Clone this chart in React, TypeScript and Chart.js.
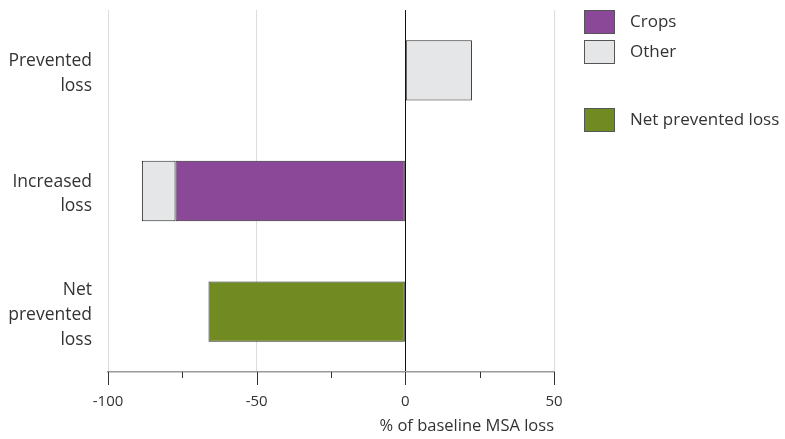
import React, { useEffect, useRef } from "react";
import { Chart, registerables } from "chart.js";

Chart.register(...registerables);

const categories: string[][] = [["Prevented", "loss"], ["Increased", "loss"], ["Net", "prevented", "loss"]];
const cropsValues: (number | null)[] = [null, -77.3, null];
const otherValues: (number | null)[] = [22.4, -11.3, null];
const netValues: (number | null)[] = [null, null, -66.2];
const xTickValues: number[] = [-100, -75, -50, -25, 0, 25, 50];
const xLabelValues: number[] = [-100, -50, 0, 50];
const legendLabels: string[] = ["Crops", "Other", "Net prevented loss"];

const COLORS = { crops: "#8B4798", other: "#E5E6E7", net: "#718B22" };
const FONT = "'Open Sans', sans-serif";
const TEXT = "#333333";

const customPlugin = {
  id: "custom",
  afterDraw(chart: any) {
    const ctx = chart.ctx;
    const xs = chart.scales.x;
    const bottom = chart.chartArea.bottom;
    ctx.save();
    ctx.strokeStyle = "#333";
    ctx.lineWidth = 1;
    xTickValues.forEach((v) => {
      const x = Math.round(xs.getPixelForValue(v)) + 0.5;
      const major = xLabelValues.includes(v);
      ctx.beginPath();
      ctx.moveTo(x, bottom);
      ctx.lineTo(x, bottom + (major ? 13 : 6));
      ctx.stroke();
    });
    // legend
    const items = [
      { label: legendLabels[0], color: COLORS.crops, y: 10 },
      { label: legendLabels[1], color: COLORS.other, y: 40 },
      { label: legendLabels[2], color: COLORS.net, y: 108 },
    ];
    ctx.font = `17px ${FONT}`;
    ctx.textBaseline = "middle";
    ctx.textAlign = "left";
    items.forEach((it) => {
      ctx.fillStyle = it.color;
      ctx.fillRect(584, it.y, 30, 23);
      ctx.strokeStyle = "#555";
      ctx.strokeRect(584.5, it.y + 0.5, 30, 23);
      ctx.fillStyle = TEXT;
      ctx.fillText(it.label, 630, it.y + 12);
    });
    ctx.restore();
  },
};

export default function App() {
  const ref = useRef<HTMLCanvasElement>(null);
  useEffect(() => {
    if (!ref.current) return;
    const chart = new Chart(ref.current, {
      type: "bar",
      data: {
        labels: categories as any,
        datasets: [
          { label: legendLabels[0], data: cropsValues, backgroundColor: COLORS.crops, borderColor: "#2a2a2a", borderWidth: 1, borderSkipped: false, barPercentage: 0.5, categoryPercentage: 1 },
          { label: legendLabels[1], data: otherValues, backgroundColor: COLORS.other, borderColor: "#2a2a2a", borderWidth: 1, borderSkipped: false, barPercentage: 0.5, categoryPercentage: 1 },
          { label: legendLabels[2], data: netValues, backgroundColor: COLORS.net, borderColor: "#2a2a2a", borderWidth: 1, borderSkipped: false, barPercentage: 0.5, categoryPercentage: 1 },
        ],
      },
      options: {
        indexAxis: "y",
        responsive: false,
        animation: false,
        devicePixelRatio: 1,
        layout: { padding: { top: 10, right: 231, left: 0, bottom: 0 } },
        plugins: { legend: { display: false }, tooltip: { enabled: false } },
        scales: {
          x: {
            stacked: true,
            min: -100,
            max: 50,
            afterBuildTicks: (scale: any) => {
              scale.ticks = xTickValues.map((v) => ({ value: v }));
            },
            afterFit: (scale: any) => {
              scale.height = 67;
            },
            ticks: {
              callback: (v: any) => (xLabelValues.includes(Number(v)) ? String(v) : ""),
              color: TEXT,
              font: { family: FONT, size: 15 },
              padding: 21,
              maxRotation: 0,
              autoSkip: false,
            },
            grid: {
              drawTicks: false,
              color: (c: any) => {
                const v = c.tick ? c.tick.value : null;
                if (v === 0) return "#111";
                if (v !== null && v % 50 === 0) return "#dddddd";
                return "rgba(0,0,0,0)";
              },
              lineWidth: 1,
            },
            border: { display: true, color: "#999", width: 1.5 },
            title: {
              display: true,
              text: "% of baseline MSA loss",
              align: "end",
              color: TEXT,
              font: { family: FONT, size: 16.5 },
              padding: { top: 4, bottom: 3 },
            },
          },
          y: {
            stacked: true,
            afterFit: (scale: any) => {
              scale.width = 108;
              scale.paddingTop = 0;
              scale.paddingBottom = 0;
            },
            ticks: {
              color: TEXT,
              font: { family: FONT, size: 17.5, lineHeight: 1.42 },
              padding: 16,
              labelOffset: 3,
              crossAlign: "near",
            },
            grid: { display: false, drawTicks: false },
            border: { display: false },
          },
        },
      },
      plugins: [customPlugin],
    } as any);
    return () => chart.destroy();
  }, []);
  return (
    <div style={{ position: "fixed", left: 0, top: 0, width: 785, height: 439, background: "#fff" }}>
      <canvas ref={ref} width={785} height={439} />
    </div>
  );
}
